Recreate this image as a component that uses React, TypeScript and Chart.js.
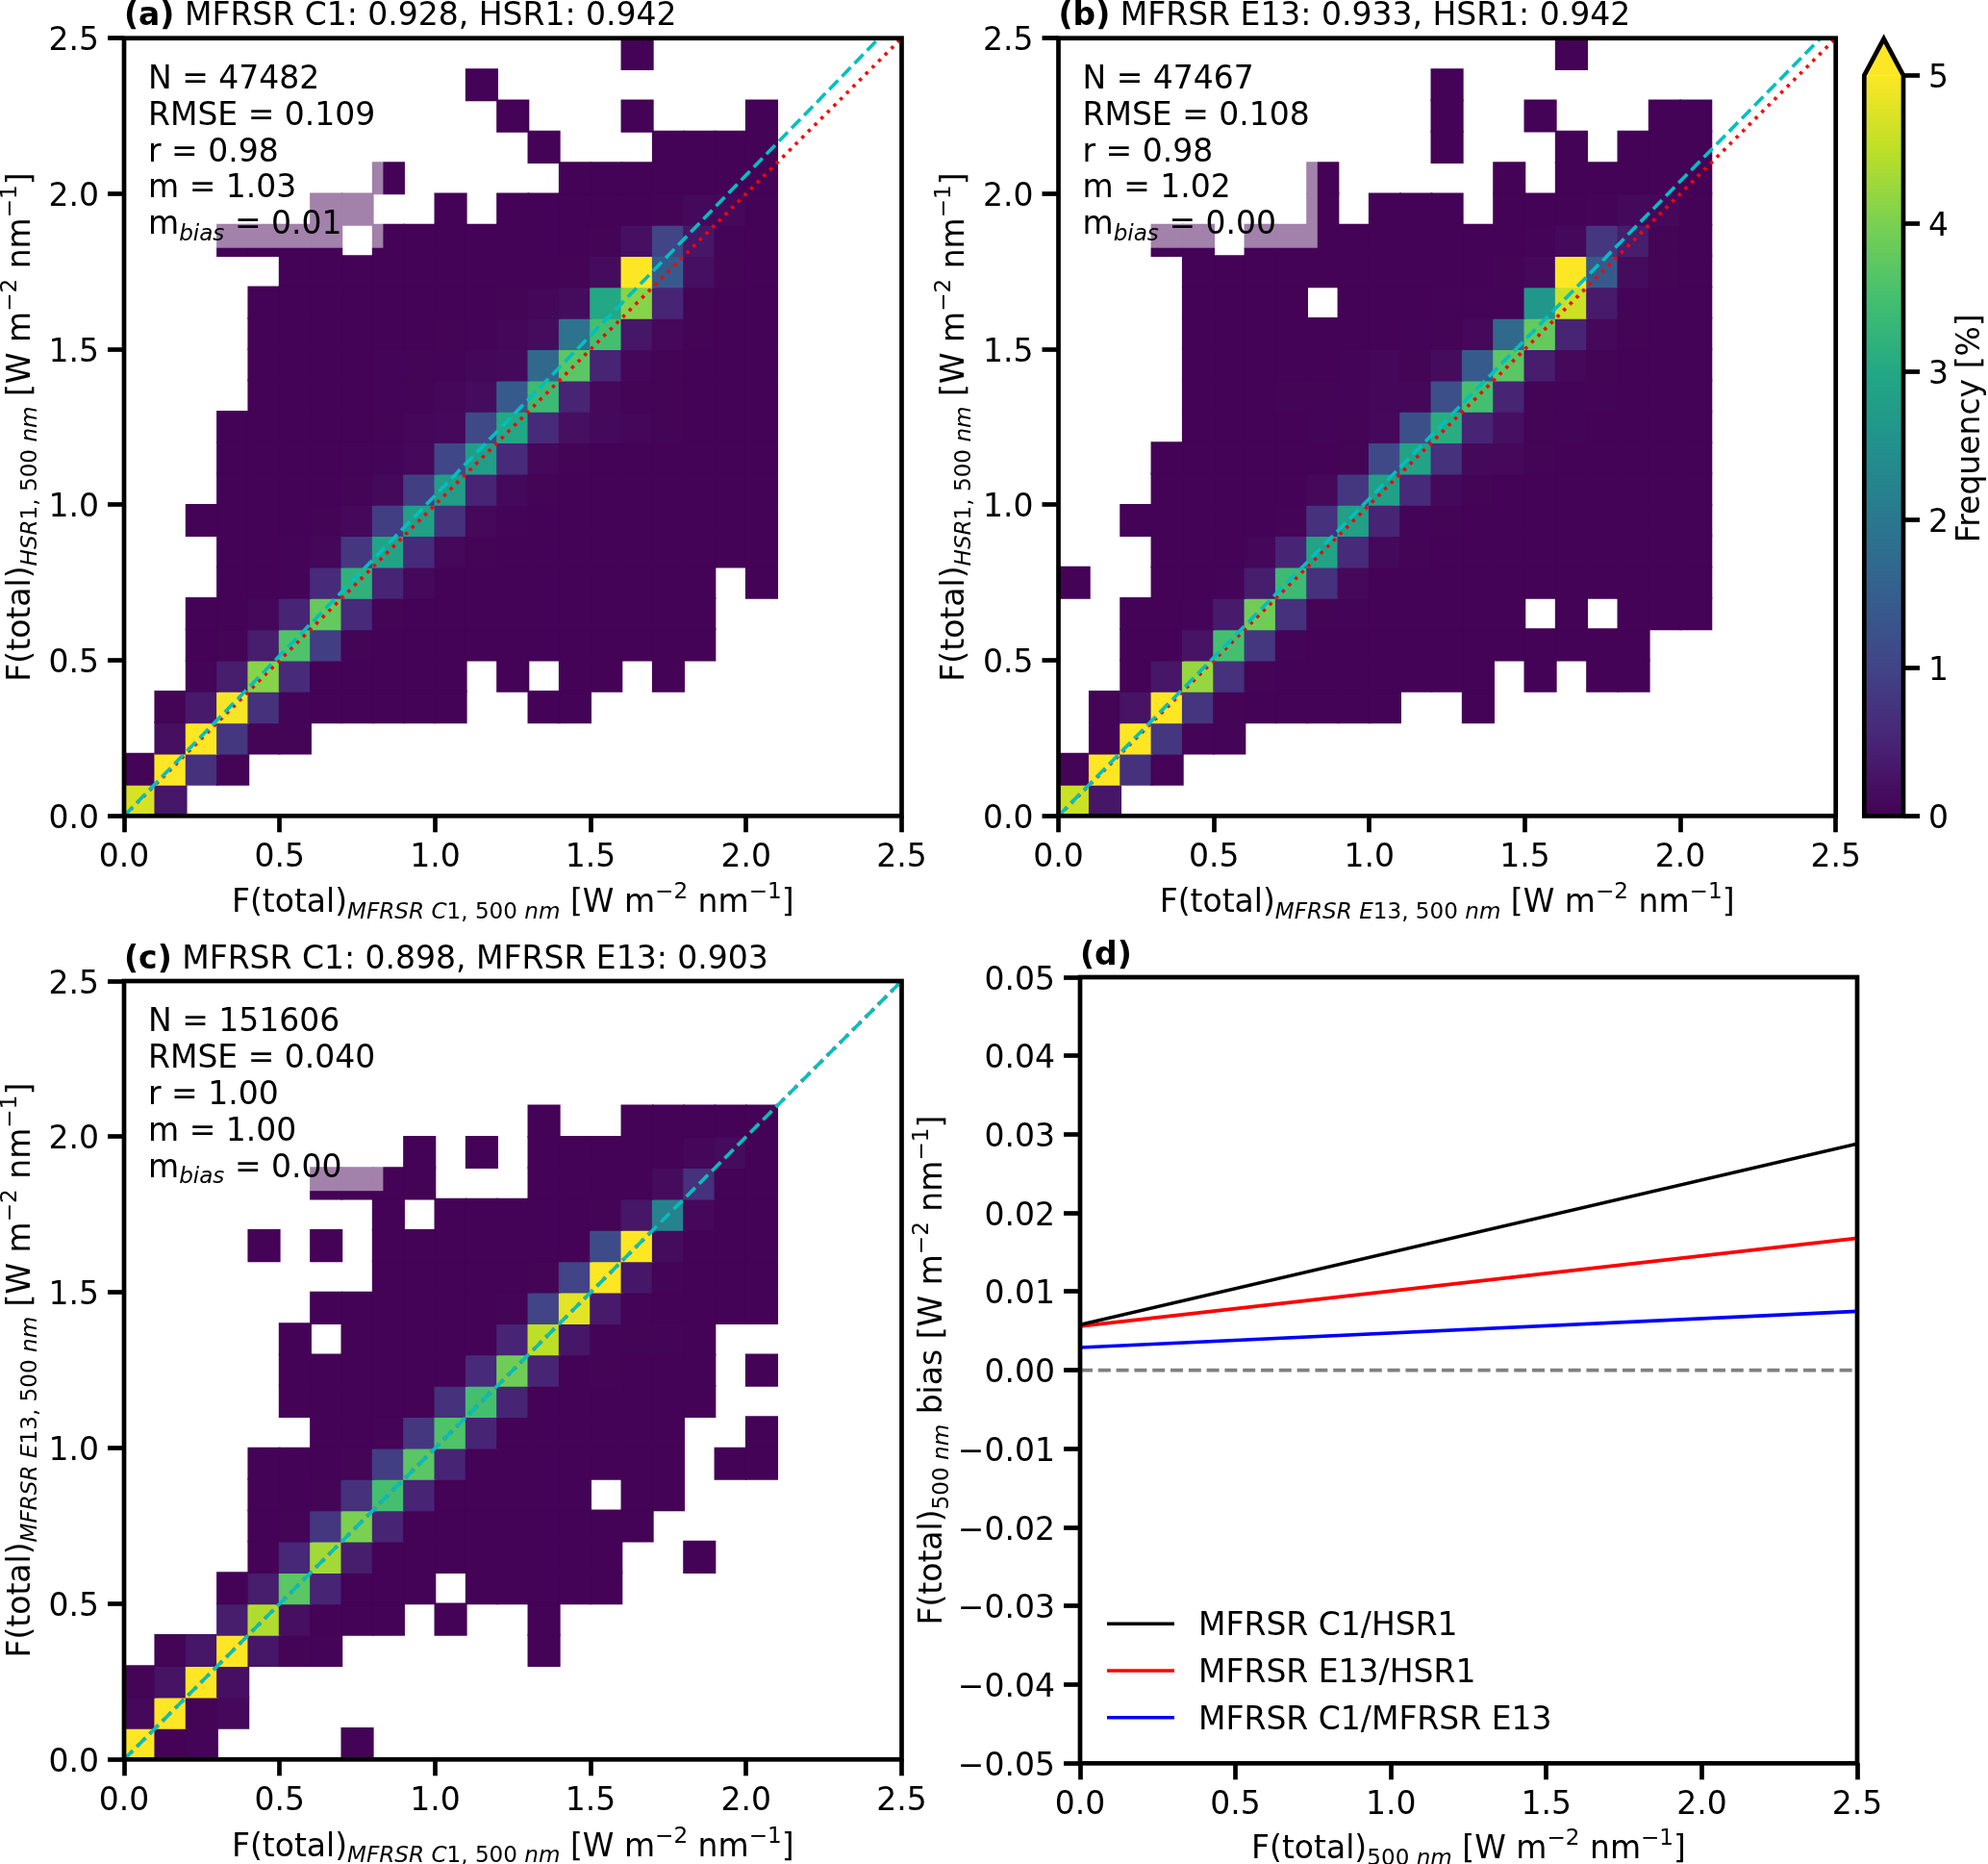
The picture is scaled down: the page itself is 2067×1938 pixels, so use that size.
import React, { useEffect, useRef } from "react";
import { Chart, registerables } from "chart.js";

Chart.register(...registerables);
Chart.defaults.font.family = '"DejaVu Sans"';
Chart.defaults.color = "#000";

const _ = null;
const o = 0.03;

const binEdges = [0, 0.1, 0.2, 0.3, 0.4, 0.5, 0.6, 0.7, 0.8, 0.9, 1.0, 1.1, 1.2, 1.3, 1.4, 1.5, 1.6, 1.7, 1.8, 1.9, 2.0, 2.1, 2.2, 2.3, 2.4, 2.5];

// Frequency [%] per cell; outer index = y bin (bottom up), inner index = x bin
const freqA = [
  [4.7, .3],
  [.04, 5.2, .7, .05],
  [_, .2, 5.2, .8, .05, .05],
  [_, .05, .35, 4.95, .7, .04, o, o, o, o, o, _, _, o, o],
  [_, _, .04, .4, 4.1, .6, o, o, o, o, o, _, o, _, o, o, _, o],
  [_, _, o, .05, .4, 3.6, .9, .05, o, o, o, o, o, o, o, o, o, o, o],
  [_, _, o, o, .08, .5, 3.8, .6, .05, o, o, o, o, o, o, o, o, o, o],
  [_, _, _, o, o, .06, .6, 3.2, .5, .1, o, o, o, o, o, o, o, o, o, _, o],
  [_, _, _, o, o, .04, .08, .8, 2.9, .6, .1, .05, o, o, o, o, o, o, o, o, o],
  [_, _, o, o, o, o, .05, .1, .9, 2.8, .7, .1, .06, o, o, o, o, o, o, o, o],
  [_, _, _, o, o, o, o, .05, .12, .9, 2.75, .5, .12, .05, o, o, o, o, o, o, o],
  [_, _, _, o, o, o, o, .04, .06, .1, 1.05, 2.75, .6, .1, .05, o, o, o, o, o, o],
  [_, _, _, o, o, o, o, o, .05, .08, .1, 1.1, 3.0, .6, .2, .12, .08, .05, o, o, o],
  [_, _, _, _, o, o, o, o, .04, .05, .08, .15, 1.4, 3.4, .5, .1, .05, .05, o, o, o],
  [_, _, _, _, o, o, o, o, .04, .05, .06, .08, .12, 1.7, 3.7, .5, .08, .05, o, o, o],
  [_, _, _, _, o, o, o, o, o, o, .05, .06, .08, .15, 1.9, 3.5, .3, .1, .05, o, o],
  [_, _, _, _, o, o, o, o, o, o, o, o, .05, .08, .15, 3.0, 4.1, .5, .05, o, o],
  [_, _, _, _, _, o, o, o, o, o, o, o, o, o, .05, .15, 5.2, 1.4, .2, .05, o],
  [_, _, _, o, o, o, o, _, o, o, o, o, o, o, o, .05, .2, 1.0, .3, .04, o],
  [_, _, _, _, _, _, o, o, _, _, o, _, o, o, o, o, o, .05, .12, .1, o],
  [_, _, _, _, _, _, _, _, o, _, _, _, _, _, o, o, o, o, o, o, o],
  [_, _, _, _, _, _, _, _, _, _, _, _, _, o, _, _, _, o, o, o, o],
  [_, _, _, _, _, _, _, _, _, _, _, _, o, _, _, _, o, _, _, _, o],
  [_, _, _, _, _, _, _, _, _, _, _, o],
  [_, _, _, _, _, _, _, _, _, _, _, _, _, _, _, _, o],
];

const freqB = [
  [4.6, .3],
  [.04, 5.2, .7, .04],
  [_, .06, 5.2, .8, .04, .04],
  [_, .05, .25, 5, .75, .05, o, o, o, o, o, _, _, o],
  [_, _, o, .3, 4.2, .7, .05, o, o, o, o, o, o, o, _, o, _, o, o],
  [_, _, o, o, .25, 3.5, .8, .04, o, o, o, o, o, o, o, o, o, o, o],
  [_, _, o, o, .06, .35, 3.9, .7, .05, .04, o, o, o, o, o, _, o, _, o, o, o],
  [o, _, _, o, o, .06, .4, 3.4, .7, .1, o, o, o, o, o, o, o, o, o, o, o],
  [_, _, _, o, o, o, .08, .5, 2.9, .6, .12, .05, o, o, o, o, o, o, o, o, o],
  [_, _, o, o, o, o, o, .06, .7, 2.8, .5, .06, .05, o, o, o, o, o, o, o, o],
  [_, _, _, o, o, o, o, o, .1, .8, 2.8, .6, .12, .05, o, o, o, o, o, o, o],
  [_, _, _, o, o, o, o, o, o, .05, 1.1, 2.9, .7, .12, .1, .05, o, o, o, o, o],
  [_, _, _, _, o, o, o, o, .04, .05, .1, 1.2, 3.1, .5, .2, .05, .04, o, o, o, o],
  [_, _, _, _, o, o, o, .05, .05, .06, .08, .08, 1.2, 3.5, .5, .05, .04, .04, o, o, o],
  [_, _, _, _, o, o, o, o, o, .04, .08, .05, .15, 1.4, 3.7, .4, .1, .05, o, o, o],
  [_, _, _, _, o, o, o, o, o, o, o, .04, .05, .1, 1.7, 3.8, .5, .1, .05, o, o],
  [_, _, _, _, o, o, o, o, _, o, o, o, .04, .04, .06, 2.6, 4.6, .35, .04, o, o],
  [_, _, _, _, o, o, o, o, o, o, o, o, o, o, .05, .1, 5.2, 1.4, .15, .05, o],
  [_, _, _, o, o, _, o, o, o, o, o, o, o, o, o, .04, .12, .8, .4, .05, o],
  [_, _, _, _, _, _, _, _, o, _, o, o, o, _, o, o, o, .06, .12, .1, o],
  [_, _, _, _, _, _, _, _, o, _, _, _, _, _, o, _, o, o, o, o, o],
  [_, _, _, _, _, _, _, _, _, _, _, _, o, _, _, _, o, _, o, o, o],
  [_, _, _, _, _, _, _, _, _, _, _, _, o, _, _, o, _, _, _, o, o],
  [_, _, _, _, _, _, _, _, _, _, _, _, o],
  [_, _, _, _, _, _, _, _, _, _, _, _, _, _, _, _, o],
];

const freqC = [
  [5.2, o, .04, _, _, _, _, o],
  [.1, 5.2, .05, .1],
  [.05, .25, 5.2, .2],
  [_, .05, .3, 5.2, .3, .05, .04, _, _, _, _, _, _, o],
  [_, _, _, .4, 4.4, .2, o, o, o, _, o, _, _, o],
  [_, _, _, o, .4, 3.7, .5, o, o, o, _, o, o, o, o, o],
  [_, _, _, _, o, .55, 4.3, .4, o, o, o, o, o, o, o, o, _, _, o],
  [_, _, _, _, o, .05, .8, 4.0, .5, o, o, o, o, o, o, o, o],
  [_, _, _, _, o, o, .05, .7, 3.5, .5, o, o, o, o, o, _, o, o],
  [_, _, _, _, o, o, o, .05, .9, 3.7, .5, o, o, o, o, o, o, o, _, o, o],
  [_, _, _, _, _, _, o, o, .04, .8, 3.6, .5, o, o, o, o, o, o, _, _, o],
  [_, _, _, _, _, o, o, o, o, o, .7, 3.5, .5, o, o, o, o, o, o],
  [_, _, _, _, _, o, o, o, o, o, o, .6, 3.9, .5, o, .05, o, o, o, _, o],
  [_, _, _, _, _, o, _, o, o, o, o, o, .5, 4.5, .3, .06, .05, .04, o],
  [_, _, _, _, _, _, o, o, o, o, o, o, .04, 1.0, 4.8, .35, .04, o, o, o, o],
  [_, _, _, _, _, _, _, _, o, o, o, o, o, .05, 1.0, 5.2, .3, .04, o, o, o],
  [_, _, _, _, o, _, o, _, o, o, o, o, o, o, o, 1.15, 5.2, .15, o, o, o],
  [_, _, _, _, _, _, _, _, o, _, o, o, o, o, o, .05, .3, 2.2, .1, o, o],
  [_, _, _, _, _, _, o, o, o, o, _, _, _, o, o, o, o, .15, .7, o, o],
  [_, _, _, _, _, _, _, _, _, o, _, o, _, o, o, o, o, o, .08, .15, o],
  [_, _, _, _, _, _, _, _, _, _, _, _, _, o, _, _, o, o, o, o, o],
];

const oneToOneX = [0, 2.5];
const fitSlopeA = 1.03;
const fitSlopeB = 1.02;
const fitSlopeC = 1.0;

const biasX = [0, 2.5];
const biasC1Hsr = [0.0058, 0.0288];
const biasE13Hsr = [0.0056, 0.0168];
const biasC1E13 = [0.0029, 0.0075];
const biasZero = [0, 0];
const biasLabels = ["MFRSR C1/HSR1", "MFRSR E13/HSR1", "MFRSR C1/MFRSR E13"];
const cbarRange = [0, 5];

type Run = { t: string; i?: boolean; b?: boolean; s?: "sub" | "sup" };

const wm: Run[] = [{ t: " [W m" }, { t: "−2", s: "sup" }, { t: " nm" }, { t: "−1", s: "sup" }, { t: "]" }];
const sub = (letters: string, rest: string): Run[] => [
  { t: "F(total)" },
  { t: letters, i: true, s: "sub" },
  { t: rest, s: "sub" },
  { t: "nm", i: true, s: "sub" },
];
const labelC1: Run[] = [...sub("MFRSR C", "1, 500 "), ...wm];
const labelE13: Run[] = [...sub("MFRSR E", "13, 500 "), ...wm];
const labelHsr: Run[] = [...sub("HSR", "1, 500 "), ...wm];
const labelDx: Run[] = [...sub("", "500 "), ...wm];
const labelDy: Run[] = [...sub("", "500 "), { t: " bias" }, ...wm];

const notes = (n: string, rmse: string, r: string, m: string, mb: string): Run[][] => [
  [{ t: `N = ${n}` }],
  [{ t: `RMSE = ${rmse}` }],
  [{ t: `r = ${r}` }],
  [{ t: `m = ${m}` }],
  [{ t: "m" }, { t: "bias", i: true, s: "sub" }, { t: ` = ${mb}` }],
];

const VIRIDIS = ["#440154", "#482475", "#414487", "#355f8d", "#2a788e", "#21918c", "#22a884", "#44bf70", "#7ad151", "#bddf26", "#fde725"];
const rgb = (h: string) => [1, 3, 5].map((k) => parseInt(h.slice(k, k + 2), 16));
function viridis(f: number) {
  const t = Math.max(0, Math.min(1, f)) * (VIRIDIS.length - 1);
  const a = Math.min(Math.floor(t), VIRIDIS.length - 2);
  const p = rgb(VIRIDIS[a]);
  const q = rgb(VIRIDIS[a + 1]);
  const w = t - a;
  return `rgb(${p.map((v, k) => Math.round(v + (q[k] - v) * w)).join(",")})`;
}

const FS = 33;
const FRAME = 4.7;
const TICK_LEN = 17;
const TICK_W = 4.7;
const LINE_W = 3.6;
const X_PAD = 7;
const Y_PAD = 9;
const Y_SHIFT = 4;

function drawRuns(ctx: any, x: number, y: number, runs: Run[], opts: { rotate?: boolean; center?: boolean; size?: number } = {}) {
  const size = opts.size ?? FS;
  const fontOf = (r: Run) =>
    `${r.i ? "italic " : ""}${r.b ? "bold " : ""}${r.s ? size * 0.7 : size}px "DejaVu Sans"`;
  ctx.save();
  ctx.textBaseline = "alphabetic";
  ctx.textAlign = "left";
  ctx.fillStyle = "#000";
  ctx.translate(x, y);
  if (opts.rotate) ctx.rotate(-Math.PI / 2);
  let total = 0;
  const widths = runs.map((r) => {
    ctx.font = fontOf(r);
    const w = ctx.measureText(r.t).width;
    total += w;
    return w;
  });
  let px = opts.center ? -total / 2 : 0;
  runs.forEach((r, k) => {
    ctx.font = fontOf(r);
    const dy = r.s === "sub" ? size * 0.2 : r.s === "sup" ? -size * 0.42 : 0;
    if (r.t) ctx.fillText(r.t, px, dy);
    px += widths[k];
  });
  ctx.restore();
}

const axisBase = (min: number, max: number, step: number, fmt: (v: number) => string, afterFit: (s: any) => void, padding: number, labelOffset: number) => ({
  type: "linear",
  min,
  max,
  afterFit,
  border: { display: false },
  grid: { drawOnChartArea: false, drawTicks: true, tickLength: TICK_LEN, tickWidth: TICK_W, tickColor: "#000" },
  ticks: { stepSize: step, autoSkip: false, maxRotation: 0, padding, labelOffset, color: "#000", font: { size: FS }, callback: (v: any) => fmt(Number(v)) },
});

type Box = { left: number; top: number; w: number; h: number; L: number; R: number; T: number; B: number };

function framePlugin(box: Box, title: Run[], xLabel: Run[], yLabel: Run[], yLabelX: number, xLabelY: number, lines?: Run[][]) {
  return {
    id: "panelFurniture",
    afterDatasetsDraw(chart: any) {
      if (!lines) return;
      const { x, y } = chart.scales;
      const c = chart.ctx;
      c.save();
      c.fillStyle = "rgba(255,255,255,0.5)";
      const l = x.getPixelForValue(0.04);
      const r = x.getPixelForValue(0.833);
      const t = y.getPixelForValue(2.43);
      const b = y.getPixelForValue(1.826);
      c.fillRect(l, t, r - l, b - t);
      c.restore();
    },
    afterDraw(chart: any) {
      const c = chart.ctx;
      const a = chart.chartArea;
      c.save();
      c.strokeStyle = "#000";
      c.lineWidth = FRAME;
      c.strokeRect(a.left, a.top, a.right - a.left, a.bottom - a.top);
      c.restore();
      drawRuns(c, a.left, a.top - 13.5, title);
      drawRuns(c, (a.left + a.right) / 2, xLabelY - box.top, xLabel, { center: true });
      drawRuns(c, yLabelX - box.left, (a.top + a.bottom) / 2, yLabel, { rotate: true, center: true });
      if (lines) {
        lines.forEach((ln, k) => drawRuns(c, a.left + 25, a.top + 52.3 + k * 37.8, ln));
      }
    },
  };
}

function layoutFor(box: Box) {
  return { padding: { top: box.T - box.top, right: box.left + box.w - box.R, bottom: 0, left: 0 } };
}

function heatConfig(box: Box, grid: (number | null)[][], slope: number, title: Run[], xLabel: Run[], yLabel: Run[], yLabelX: number, xLabelY: number, lines: Run[][]) {
  const cells: { x: number; y: number; v: number }[] = [];
  grid.forEach((row, j) =>
    row.forEach((v, i) => {
      if (v !== null) cells.push({ x: (binEdges[i] + binEdges[i + 1]) / 2, y: (binEdges[j] + binEdges[j + 1]) / 2, v });
    })
  );
  const fmt = (v: number) => v.toFixed(1);
  return {
    type: "scatter",
    data: {
      datasets: [
        {
          label: "fit",
          order: 0,
          data: oneToOneX.map((v) => ({ x: v, y: v * slope })),
          showLine: true,
          borderColor: "#00bfbf",
          borderWidth: LINE_W,
          borderDash: [13, 5.8],
          pointRadius: 0,
        },
        {
          label: "1:1",
          order: 1,
          data: oneToOneX.map((v) => ({ x: v, y: v })),
          showLine: true,
          borderColor: "#ff0000",
          borderWidth: LINE_W,
          borderDash: [3.4, 6],
          pointRadius: 0,
        },
        {
          label: "Frequency [%]",
          order: 2,
          data: cells,
          pointStyle: "rect",
          pointRadius: (ctx: any) => {
            const a = ctx.chart.chartArea;
            return a ? ((a.right - a.left) * 0.04) / Math.SQRT2 : 10;
          },
          backgroundColor: (ctx: any) => (ctx.raw ? viridis(ctx.raw.v / 5) : "#440154"),
          borderColor: (ctx: any) => (ctx.raw ? viridis(ctx.raw.v / 5) : "#440154"),
          borderWidth: 1.8,
        },
      ],
    },
    options: {
      animation: false,
      responsive: false,
      devicePixelRatio: 1,
      events: [],
      layout: layoutFor(box),
      plugins: { legend: { display: false }, tooltip: { enabled: false } },
      scales: {
        x: axisBase(0, 2.5, 0.5, fmt, (s: any) => { s.height = box.top + box.h - box.B; }, X_PAD, 0),
        y: axisBase(0, 2.5, 0.5, fmt, (s: any) => { s.width = box.L - box.left; }, Y_PAD, Y_SHIFT),
      },
    },
    plugins: [framePlugin(box, title, xLabel, yLabel, yLabelX, xLabelY, lines)],
  };
}

function biasConfig(box: Box) {
  const series = [biasC1Hsr, biasE13Hsr, biasC1E13];
  const colors = ["#000000", "#ff0000", "#0000ff"];
  const fmtY = (v: number) => (Math.abs(v) < 1e-9 ? "0.00" : (v < 0 ? "−" : "") + Math.abs(v).toFixed(2));
  const fmtX = (v: number) => v.toFixed(1);
  return {
    type: "scatter",
    data: {
      datasets: [
        ...series.map((vals, k) => ({
          label: biasLabels[k],
          data: biasX.map((x, i) => ({ x, y: vals[i] })),
          showLine: true,
          borderColor: colors[k],
          borderWidth: LINE_W,
          pointRadius: 0,
        })),
        {
          label: "zero",
          data: biasX.map((x, i) => ({ x, y: biasZero[i] })),
          showLine: true,
          borderColor: "#808080",
          borderWidth: LINE_W,
          borderDash: [13, 5.8],
          pointRadius: 0,
        },
      ],
    },
    options: {
      animation: false,
      responsive: false,
      devicePixelRatio: 1,
      events: [],
      layout: layoutFor(box),
      plugins: { legend: { display: false }, tooltip: { enabled: false } },
      scales: {
        x: axisBase(0, 2.5, 0.5, fmtX, (s: any) => { s.height = box.top + box.h - box.B; }, X_PAD, 0),
        y: axisBase(-0.05, 0.05, 0.01, fmtY, (s: any) => { s.width = box.L - box.left; }, Y_PAD, Y_SHIFT),
      },
    },
    plugins: [
      framePlugin(box, [{ t: "(d)", b: true }], labelDx, labelDy, 979, 1932),
      {
        id: "biasLegend",
        afterDraw(chart: any) {
          const c = chart.ctx;
          const a = chart.chartArea;
          biasLabels.forEach((label, k) => {
            const y = a.bottom - 145 + k * 48.7;
            c.save();
            c.strokeStyle = colors[k];
            c.lineWidth = LINE_W;
            c.beginPath();
            c.moveTo(a.left + 28, y);
            c.lineTo(a.left + 98, y);
            c.stroke();
            c.restore();
            drawRuns(c, a.left + 123, y + 12, [{ t: label }]);
          });
        },
      },
    ],
  };
}

function colorbarConfig(box: Box) {
  return {
    type: "bar",
    data: {
      labels: ["Frequency [%]"],
      datasets: [
        {
          label: "Frequency [%]",
          data: [cbarRange],
          barPercentage: 1,
          categoryPercentage: 1,
          borderWidth: 0,
          backgroundColor: (ctx: any) => {
            const a = ctx.chart.chartArea;
            if (!a) return "#440154";
            const g = ctx.chart.ctx.createLinearGradient(0, a.bottom, 0, a.top);
            VIRIDIS.forEach((col, k) => g.addColorStop(k / (VIRIDIS.length - 1), col));
            return g;
          },
        },
      ],
    },
    options: {
      animation: false,
      responsive: false,
      devicePixelRatio: 1,
      events: [],
      layout: { padding: { top: box.T - box.top, bottom: box.top + box.h - box.B, left: box.L - box.left, right: 0 } },
      plugins: { legend: { display: false }, tooltip: { enabled: false } },
      scales: {
        x: { type: "category", display: false },
        y: {
          ...axisBase(0, 5, 1, (v: number) => String(v), (s: any) => { s.width = box.left + box.w - box.R; }, Y_PAD, Y_SHIFT),
          position: "right",
        },
      },
    },
    plugins: [
      {
        id: "cbarExtend",
        afterDraw(chart: any) {
          const c = chart.ctx;
          const a = chart.chartArea;
          const mid = (a.left + a.right) / 2;
          const tip = a.top - 38;
          c.save();
          c.fillStyle = "#fde725";
          c.strokeStyle = "#000";
          c.lineWidth = FRAME;
          c.beginPath();
          c.moveTo(a.left, a.top);
          c.lineTo(mid, tip);
          c.lineTo(a.right, a.top);
          c.closePath();
          c.fill();
          c.beginPath();
          c.moveTo(a.left, a.bottom);
          c.lineTo(a.left, a.top);
          c.lineTo(mid, tip);
          c.lineTo(a.right, a.top);
          c.lineTo(a.right, a.bottom);
          c.closePath();
          c.stroke();
          c.restore();
          drawRuns(c, 2058 - box.left, (a.top + a.bottom) / 2 - 18, [{ t: "Frequency [%]" }], { rotate: true, center: true });
        },
      },
    ],
  };
}

const boxA: Box = { left: 0, top: 0, w: 1000, h: 960, L: 129, R: 937.5, T: 39.7, B: 848.3 };
const boxB: Box = { left: 940, top: 0, w: 1080, h: 960, L: 1100.5, R: 1908.7, T: 39.7, B: 848.3 };
const boxC: Box = { left: 0, top: 960, w: 1000, h: 978, L: 129, R: 937.5, T: 1020, B: 1829.3 };
const boxD: Box = { left: 900, top: 960, w: 1167, h: 978, L: 1123, R: 1931, T: 1016, B: 1833.3 };
const boxCb: Box = { left: 1930, top: 0, w: 137, h: 960, L: 1938.3, R: 1979, T: 78.3, B: 848.3 };

const titleRuns = (tag: string, rest: string): Run[] => [{ t: tag, b: true }, { t: ` ${rest}` }];

function Plot({ box, make }: { box: Box; make: () => any }) {
  const ref = useRef<HTMLCanvasElement>(null);
  useEffect(() => {
    const chart = new Chart(ref.current as any, make());
    return () => chart.destroy();
  }, []);
  return (
    <canvas
      ref={ref}
      width={box.w}
      height={box.h}
      style={{ position: "absolute", left: box.left, top: box.top, width: box.w, height: box.h, display: "block" }}
    />
  );
}

export default function App() {
  return (
    <div style={{ position: "absolute", left: 0, top: 0, width: 2067, height: 1938, overflow: "hidden", background: "#fff" }}>
      <Plot box={boxA} make={() => heatConfig(boxA, freqA, fitSlopeA, titleRuns("(a)", "MFRSR C1: 0.928, HSR1: 0.942"), labelC1, labelHsr, 31, 948, notes("47482", "0.109", "0.98", "1.03", "0.01"))} />
      <Plot box={boxB} make={() => heatConfig(boxB, freqB, fitSlopeB, titleRuns("(b)", "MFRSR E13: 0.933, HSR1: 0.942"), labelE13, labelHsr, 1002, 948, notes("47467", "0.108", "0.98", "1.02", "0.00"))} />
      <Plot box={boxCb} make={() => colorbarConfig(boxCb)} />
      <Plot box={boxC} make={() => heatConfig(boxC, freqC, fitSlopeC, titleRuns("(c)", "MFRSR C1: 0.898, MFRSR E13: 0.903"), labelC1, labelE13, 31, 1929.5, notes("151606", "0.040", "1.00", "1.00", "0.00"))} />
      <Plot box={boxD} make={() => biasConfig(boxD)} />
    </div>
  );
}
